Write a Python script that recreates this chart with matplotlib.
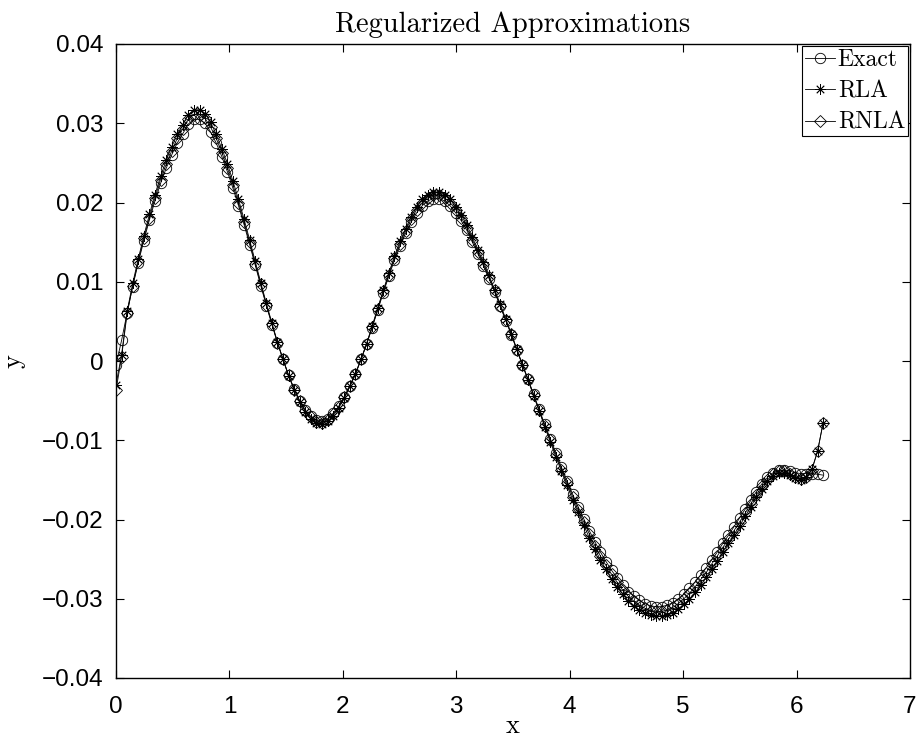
import numpy as np
import matplotlib
matplotlib.use("Agg")
import matplotlib.pyplot as plt

# ---- data (y values in units of 1e-4) ----
n_points = 128
exact_e4 = [-5, 26, 61, 94, 124, 152, 178, 202, 224, 243, 260, 275, 287, 299, 305, 305,
            300, 289, 275, 258, 239, 218, 196, 172, 147, 121, 95, 70, 46, 23, 2, -18,
            -35, -50, -62, -70, -75, -76, -73, -66, -57, -45, -31, -16, 2, 21, 42, 64,
            86, 107, 127, 145, 161, 175, 187, 196, 202, 205, 205, 202, 196, 187, 177, 165,
            150, 135, 120, 104, 87, 69, 51, 33, 14, -5, -23, -42, -61, -80, -98, -116,
            -134, -151, -168, -184, -199, -214, -228, -241, -253, -264, -274, -283, -291, -297, -302, -306,
            -309, -310, -310, -308, -305, -300, -294, -287, -279, -270, -261, -251, -241, -230, -220, -209,
            -198, -187, -176, -165, -155, -147, -141, -138, -138, -139, -141, -142, -142, -142, -143, -144]
rla_e4 = [-30, 8, 63, 98, 129, 158, 185, 210, 233, 253, 270, 286, 298, 311, 317, 317,
          312, 301, 286, 268, 249, 227, 204, 179, 153, 126, 99, 73, 48, 24, 2, -19,
          -36, -52, -64, -73, -78, -79, -76, -69, -59, -47, -32, -17, 2, 22, 44, 67,
          89, 111, 132, 151, 167, 182, 194, 204, 210, 213, 213, 210, 204, 194, 184, 172,
          156, 140, 125, 108, 90, 72, 53, 34, 15, -5, -24, -44, -63, -83, -102, -121,
          -139, -157, -175, -191, -207, -223, -237, -251, -263, -275, -285, -294, -303, -309, -314, -318,
          -321, -322, -322, -321, -318, -313, -307, -300, -292, -283, -273, -263, -252, -241, -230, -219,
          -208, -196, -184, -172, -161, -152, -145, -141, -141, -144, -148, -150, -147, -136, -114, -78]
rnla_e4 = [-37, 5, 60, 95, 126, 155, 181, 206, 229, 248, 265, 281, 293, 305, 311, 311,
           306, 295, 281, 263, 244, 222, 200, 175, 150, 123, 97, 71, 47, 23, 2, -18,
           -36, -51, -63, -71, -77, -78, -74, -67, -58, -46, -32, -16, 2, 21, 43, 65,
           88, 109, 130, 148, 164, 179, 191, 200, 206, 209, 209, 206, 200, 191, 181, 168,
           153, 138, 122, 106, 89, 70, 52, 34, 14, -5, -23, -43, -62, -82, -100, -118,
           -137, -154, -171, -188, -203, -218, -233, -246, -258, -269, -279, -289, -297, -303, -308, -312,
           -315, -316, -316, -314, -311, -306, -300, -293, -285, -276, -267, -256, -246, -235, -225, -214,
           -203, -192, -180, -169, -158, -150, -143, -139, -139, -142, -147, -149, -146, -137, -114, -78]

series_labels = ["Exact", "RLA", "RNLA"]
x_ticks = [0, 1, 2, 3, 4, 5, 6, 7]
x_ticklabels = ["0", "1", "2", "3", "4", "5", "6", "7"]
y_ticks = [-0.04, -0.03, -0.02, -0.01, 0, 0.01, 0.02, 0.03, 0.04]
y_ticklabels = ["\u22120.04", "\u22120.03", "\u22120.02", "\u22120.01", "0",
                "0.01", "0.02", "0.03", "0.04"]
title_text = "Regularized Approximations"

x = np.arange(n_points) * 2 * np.pi / n_points
exact = np.array(exact_e4) * 1e-4
rla = np.array(rla_e4) * 1e-4
rnla = np.array(rnla_e4) * 1e-4

serif = ["cmr10", "DejaVu Serif"]
sans = ["Liberation Sans", "DejaVu Sans"]

W, H = 924, 738
fig = plt.figure(figsize=(W / 100, H / 100), dpi=100)
L, R, T, B = 116, 910, 44, 678
ax = fig.add_axes([L / W, 1 - B / H, (R - L) / W, (B - T) / H])

lw = 0.6
ax.plot(x, exact, color="black", lw=lw, marker="o", ms=7.5, mfc="none",
        mec="black", mew=0.6, label=series_labels[0])
ax.plot(x, rla, color="black", lw=lw, marker=(8, 2, 0), ms=7.5,
        mec="black", mew=0.6, label=series_labels[1])
ax.plot(x, rnla, color="black", lw=lw, marker="D", ms=6, mfc="none",
        mec="black", mew=0.6, label=series_labels[2])

ax.set_xlim(0, 7)
ax.set_ylim(-0.04, 0.04)
ax.set_xticks(x_ticks)
ax.set_xticklabels(x_ticklabels, fontfamily=sans, fontsize=17.5)
ax.set_yticks(y_ticks)
ax.set_yticklabels(y_ticklabels, fontfamily=sans, fontsize=17.5)
ax.tick_params(axis="x", direction="in", length=6, width=0.8, top=True, pad=13)
ax.tick_params(axis="y", direction="in", length=6, width=0.8, right=True, pad=9)
for s in ax.spines.values():
    s.set_linewidth(1.0)

ax.set_title(title_text, fontfamily=serif, fontsize=20.5, pad=9)
ax.set_xlabel("x", fontfamily=serif, fontsize=19, labelpad=-3)
ax.set_ylabel("y", fontfamily=serif, fontsize=19, labelpad=12)

leg = ax.legend(loc="upper right", prop={"family": serif, "size": 17},
                fancybox=False, framealpha=1, edgecolor="black",
                borderaxespad=0.1, borderpad=0.1, labelspacing=0.4,
                handlelength=1.3, handletextpad=0.1)
leg.get_frame().set_linewidth(0.8)

fig.savefig("out.png", dpi=100)
